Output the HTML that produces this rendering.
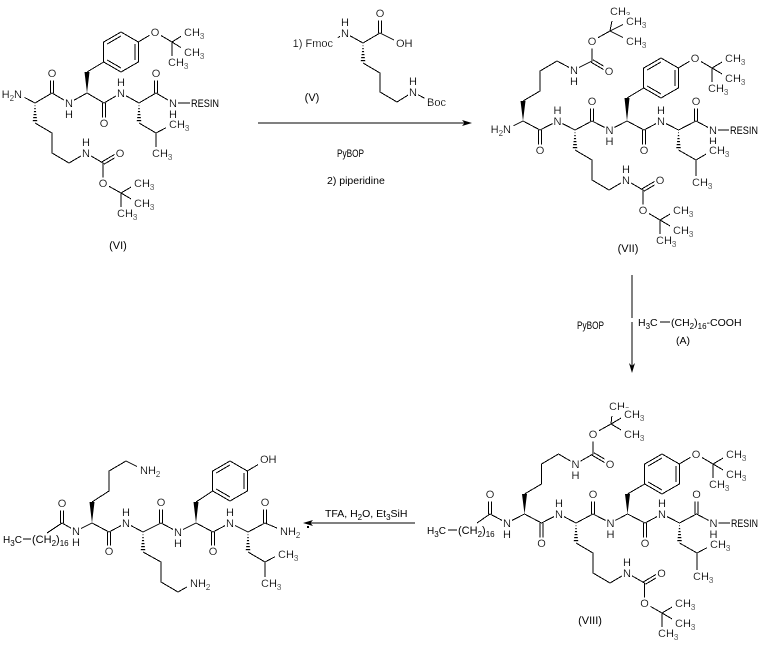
<!DOCTYPE html>
<html>
<head>
<meta charset="utf-8">
<style>
html,body{margin:0;padding:0;background:#fff;}
svg{display:block;}
.t text{filter:url(#w);}
</style>
</head>
<body>
<svg xmlns="http://www.w3.org/2000/svg" width="765" height="647" viewBox="0 0 765 647" font-family="'Liberation Sans', Arial, sans-serif" font-size="11">
<defs>
<pattern id="hs" width="10" height="3" patternUnits="userSpaceOnUse"><rect x="0" y="0" width="10" height="1.2" fill="#000"/></pattern>
<filter id="w" x="-0.12" y="-0.04" width="1.24" height="1.08"><feFlood flood-color="#fff" result="b"/><feComposite in="SourceGraphic" in2="b" operator="over"/></filter>
<g id="ring"><path fill="none" stroke="#000" stroke-width="1" shape-rendering="crispEdges" d="M-17.3 -10 L0 -20 L17.3 -10 L17.3 10 L0 20 L-17.3 10 Z M-13.8 -8 L0 -16 M13.8 -8 L13.8 8 M0 16 L-13.8 8"/></g>
</defs>
<rect width="765" height="647" fill="#fff"/>

<!-- ================= BONDS ================= -->
<g fill="none" stroke="#000" stroke-width="1" shape-rendering="crispEdges">
<!-- VI -->
<path d="M18 94 L35 103 L52 93 L69 103 L87 93 L104 103 L121 93 L139 103 L156 93 L173 103 L190 103
M50.5 93 L50.5 73 M53.5 93 L53.5 73
M102.5 103 L102.5 123 M105.5 103 L105.5 123
M154.5 93 L154.5 73 M157.5 93 L157.5 73
M87 72 L103.7 62 M138.3 42 L155 32 L172 42 L188 32 M172 42 L188 52 M172 42 L172 62
M139 123 L156 133 L173 124 M156 133 L156 153
M35 123 L52 133 L52 153 L69 163 L86 153 L103 163 L103 183 L121 193 L138 183 M121 193 L138 203 M121 193 L121 213
M103.8 164.3 L120.8 154.3 M102.2 161.7 L119.2 151.7"/>
<!-- V reagent -->
<path d="M333 41 L345 33 L363 43 L380 33 L400 43 M378.5 33 L378.5 13 M381.5 33 L381.5 13
M363 63 L380 73 L380 92 L397 102 L413 92 L426 99"/>
<!-- arrow 1 -->
<path d="M258 123 L466 123"/>
<!-- VII -->
<path d="M507 129 L523 121 L540 130 L557.5 121 L575 130 L592 121 L609.5 130 L627 121 L644 130 L661 121 L678.5 130 L696 121 L713 130 L729 130
M538.5 130 L538.5 150 M541.5 130 L541.5 150
M590.5 121 L590.5 101 M593.5 121 L593.5 101
M642.5 130 L642.5 150 M645.5 130 L645.5 150
M694.5 121 L694.5 101 M697.5 121 L697.5 101
M523 101 L540 91 L540 71 L557 61 L574 70 L592 61 L592 41 L610 31 L614 11 M610 31 L630 21 M610 31 L630 41
M591.2 62.3 L608.2 72.3 M592.8 59.7 L609.8 69.7
M575 150 L592 160 L592 180 L609 190 L626 180 L643 190 L643 210 L660 220 L677 210 M660 220 L677 230 M660 220 L660 240
M643.8 191.3 L660.8 181.3 M642.2 188.7 L659.2 178.7
M627 98 L643.7 88 M678.3 68 L695 58 L712 68 L729 58 M712 68 L729 78 M712 68 L712 88
M678.5 150 L696 160 L713 150 M696 160 L696 180"/>
<!-- arrow 2 -->
<path d="M632 275 L632 318 M632 322 L632 366 M660 322 L670 322"/>
<!-- VIII -->
<path d="M477 523 L490 514 L507 523 L524.5 514 L541.5 523 L559 514 L576 523 L593 514 L610.5 523 L627.5 514 L645 523 L662 514 L679.5 523 L696.5 514 L713.5 523 L730 523
M448 530 L457 530
M488.5 514 L488.5 494 M491.5 514 L491.5 494
M540 523 L540 543 M543 523 L543 543
M591.5 514 L591.5 494 M594.5 514 L594.5 494
M643.5 523 L643.5 543 M646.5 523 L646.5 543
M695 514 L695 494 M698 514 L698 494
M524.5 494 L541.5 484 L541.5 464 L558.5 454 L575.5 464 L593 454 L593 434 L611 424 L613 406 M611 424 L628 414 M611 424 L628 434
M592.2 455.3 L609.2 465.3 M593.8 452.7 L610.8 462.7
M576 543 L593 553 L593 573 L610 583 L627 573 L644.5 583 L644.5 603 L662 613 L679 603 M662 613 L679 623 M662 613 L662 633
M645.3 584.3 L662.3 574.3 M643.7 581.7 L660.7 571.7
M627.5 494 L644.7 484 M679.3 464 L696 454 L713 464 L730 454 M713 464 L730 474 M713 464 L713 484
M679.5 543 L697 553 L714 544 M697 553 L697 573"/>
<!-- arrow 3 -->
<path d="M309 523 L415 523"/>
<!-- Final product -->
<path d="M23 539 L31 539
M47 533 L62 523 L76 531 L92 523 L109 532 L126 523 L143 532 L161 523 L178 532 L196 523 L213 532 L230 523 L248 532 L265 523 L284 531
M60.5 523 L60.5 503 M63.5 523 L63.5 503
M107.5 532 L107.5 551 M110.5 532 L110.5 551
M159.5 523 L159.5 502 M162.5 523 L162.5 502
M211.5 532 L211.5 551 M214.5 532 L214.5 551
M263.5 523 L263.5 502 M266.5 523 L266.5 502
M92 502 L109 491 L109 471 L126 461 L144 470
M143 552 L161 562 L161 582 L178 592 L194 583
M196 502 L212.7 491 M247.3 471 L264 461
M248 552 L265 562 L282 553 M265 562 L265 582"/>
</g>

<!-- rings -->
<use href="#ring" x="121" y="52"/>
<use href="#ring" x="661" y="78"/>
<use href="#ring" x="662" y="474"/>
<use href="#ring" x="230" y="481"/>

<!-- wedges -->
<g fill="#000">
<polygon points="87,93 84.5,72 89.5,72"/>
<polygon points="523,121 520.5,101 525.5,101"/>
<polygon points="627,121 624.5,98 629.5,98"/>
<polygon points="524.5,514 522,494 527,494"/>
<polygon points="627.5,514 625,494 630,494"/>
<polygon points="92,523 89.5,502 94.5,502"/>
<polygon points="196,523 193.5,502 198.5,502"/>
<!-- arrowheads -->
<polygon points="472,123 462,120 464.5,123 462,126"/>
<polygon points="632,373 629,363 632,366 635,363"/>
<polygon points="303,523 313,520 310.5,523 313,526"/>
<rect x="307" y="526" width="2" height="2"/>
</g>
<g fill="url(#hs)">
<polygon points="35,103 32.5,123 37.5,123"/>
<polygon points="139,103 136.5,123 141.5,123"/>
<polygon points="363,43 360.5,63 365.5,63"/>
<polygon points="575,130 572.5,150 577.5,150"/>
<polygon points="678.5,130 676,150 681,150"/>
<polygon points="576,523 573.5,543 578.5,543"/>
<polygon points="679.5,523 677,543 682,543"/>
<polygon points="143,532 140.5,552 145.5,552"/>
<polygon points="248,532 245.5,552 250.5,552"/>
</g>

<!-- ================= LABELS (with white backing) ================= -->
<g class="t">
<!-- VI -->
<text x="22" y="98" text-anchor="end">H<tspan font-size="8" dy="3">2</tspan><tspan dy="-3">N</tspan></text>
<g text-anchor="middle">
<text x="52" y="77">O</text>
<text x="69" y="107">N</text><text x="69" y="118">H</text>
<text x="104" y="127">O</text>
<text x="121" y="97">N</text><text x="121" y="86">H</text>
<text x="156" y="77">O</text>
<text x="173" y="107">N</text><text x="173" y="118">H</text>
<text x="155" y="36">O</text>
<text x="86" y="157">N</text><text x="86" y="146">H</text>
<text x="120" y="157">O</text>
<text x="103" y="187">O</text>
</g>
<text x="184" y="36">CH<tspan font-size="8" dy="3">3</tspan></text>
<text x="184" y="56">CH<tspan font-size="8" dy="3">3</tspan></text>
<text x="168" y="66">CH<tspan font-size="8" dy="3">3</tspan></text>
<text x="169" y="128">CH<tspan font-size="8" dy="3">3</tspan></text>
<text x="152" y="157">CH<tspan font-size="8" dy="3">3</tspan></text>
<text x="134" y="187">CH<tspan font-size="8" dy="3">3</tspan></text>
<text x="134" y="207">CH<tspan font-size="8" dy="3">3</tspan></text>
<text x="117" y="217">CH<tspan font-size="8" dy="3">3</tspan></text>

<!-- V -->
<g text-anchor="middle">
<text x="345" y="37">N</text><text x="345" y="26">H</text>
<text x="380" y="17">O</text>
<text x="413" y="96">N</text><text x="413" y="85">H</text>
</g>
<text x="396" y="47">OH</text>
<text x="427" y="106">Boc</text>
<text x="333" y="47" text-anchor="end">1)  Fmoc</text>

<!-- VII -->
<text x="511" y="133" text-anchor="end">H<tspan font-size="8" dy="3">2</tspan><tspan dy="-3">N</tspan></text>
<g text-anchor="middle">
<text x="540" y="154">O</text>
<text x="557.5" y="125">N</text><text x="557.5" y="114">H</text>
<text x="592" y="105">O</text>
<text x="609.5" y="134">N</text><text x="609.5" y="145">H</text>
<text x="644" y="154">O</text>
<text x="661" y="125">N</text><text x="661" y="114">H</text>
<text x="696" y="105">O</text>
<text x="713" y="134">N</text><text x="713" y="145">H</text>
<text x="574" y="74">N</text><text x="574" y="85">H</text>
<text x="609" y="75">O</text>
<text x="592" y="45">O</text>
<text x="626" y="184">N</text><text x="626" y="173">H</text>
<text x="660" y="184">O</text>
<text x="643" y="214">O</text>
<text x="695" y="62">O</text>
</g>
<text x="610" y="15">CH<tspan font-size="8" dy="3">3</tspan></text>
<text x="626" y="25">CH<tspan font-size="8" dy="3">3</tspan></text>
<text x="626" y="45">CH<tspan font-size="8" dy="3">3</tspan></text>
<text x="673" y="214">CH<tspan font-size="8" dy="3">3</tspan></text>
<text x="673" y="234">CH<tspan font-size="8" dy="3">3</tspan></text>
<text x="656" y="244">CH<tspan font-size="8" dy="3">3</tspan></text>
<text x="725" y="62">CH<tspan font-size="8" dy="3">3</tspan></text>
<text x="725" y="82">CH<tspan font-size="8" dy="3">3</tspan></text>
<text x="708" y="92">CH<tspan font-size="8" dy="3">3</tspan></text>
<text x="709" y="154">CH<tspan font-size="8" dy="3">3</tspan></text>
<text x="692" y="186">CH<tspan font-size="8" dy="3">3</tspan></text>

<!-- VIII -->
<g text-anchor="middle">
<text x="490" y="498">O</text>
<text x="507" y="527">N</text><text x="507" y="538">H</text>
<text x="541.5" y="547">O</text>
<text x="559" y="518">N</text><text x="559" y="507">H</text>
<text x="593" y="498">O</text>
<text x="610.5" y="527">N</text><text x="610.5" y="538">H</text>
<text x="645" y="547">O</text>
<text x="662" y="518">N</text><text x="662" y="507">H</text>
<text x="696.5" y="498">O</text>
<text x="713.5" y="527">N</text><text x="713.5" y="538">H</text>
<text x="575.5" y="468">N</text><text x="575.5" y="479">H</text>
<text x="610" y="468">O</text>
<text x="593" y="438">O</text>
<text x="627" y="577">N</text><text x="627" y="566">H</text>
<text x="661.5" y="577">O</text>
<text x="644.5" y="607">O</text>
<text x="696" y="458">O</text>
</g>
<text x="609" y="410">CH<tspan font-size="8" dy="3">3</tspan></text>
<text x="624" y="418">CH<tspan font-size="8" dy="3">3</tspan></text>
<text x="624" y="438">CH<tspan font-size="8" dy="3">3</tspan></text>
<text x="675" y="607">CH<tspan font-size="8" dy="3">3</tspan></text>
<text x="675" y="627">CH<tspan font-size="8" dy="3">3</tspan></text>
<text x="658" y="637">CH<tspan font-size="8" dy="3">3</tspan></text>
<text x="726" y="458">CH<tspan font-size="8" dy="3">3</tspan></text>
<text x="726" y="478">CH<tspan font-size="8" dy="3">3</tspan></text>
<text x="709" y="488">CH<tspan font-size="8" dy="3">3</tspan></text>
<text x="710" y="548">CH<tspan font-size="8" dy="3">3</tspan></text>
<text x="693" y="580">CH<tspan font-size="8" dy="3">3</tspan></text>

<!-- Final product -->
<g text-anchor="middle">
<text x="62" y="507">O</text>
<text x="76" y="535">N</text><text x="76" y="546">H</text>
<text x="109" y="555">O</text>
<text x="126" y="527">N</text><text x="126" y="516">H</text>
<text x="161" y="506">O</text>
<text x="178" y="536">N</text><text x="178" y="547">H</text>
<text x="213" y="555">O</text>
<text x="230" y="527">N</text><text x="230" y="516">H</text>
<text x="265" y="506">O</text>
</g>
<text x="280" y="535">NH<tspan font-size="8" dy="3">2</tspan></text>
<text x="140" y="474">NH<tspan font-size="8" dy="3">2</tspan></text>
<text x="190" y="587">NH<tspan font-size="8" dy="3">2</tspan></text>
<text x="260" y="463">OH</text>
<text x="278" y="558">CH<tspan font-size="8" dy="3">3</tspan></text>
<text x="261" y="587">CH<tspan font-size="8" dy="3">3</tspan></text>
</g>

<!-- ================= PLAIN TEXT ================= -->
<g>
<text x="191" y="107" textLength="28" lengthAdjust="spacingAndGlyphs">RESIN</text>
<text x="730" y="134" textLength="28" lengthAdjust="spacingAndGlyphs">RESIN</text>
<text x="731" y="527" textLength="27" lengthAdjust="spacingAndGlyphs">RESIN</text>

<text x="118" y="249" text-anchor="middle">(VI)</text>
<text x="312" y="101" text-anchor="middle">(V)</text>
<text x="628" y="252" text-anchor="middle">(VII)</text>
<text x="590" y="624" text-anchor="middle">(VIII)</text>

<text x="337" y="157" textLength="27" lengthAdjust="spacingAndGlyphs">PyBOP</text>
<text x="327" y="184" font-size="10.5">2) piperidine</text>

<text x="577" y="329" textLength="27" lengthAdjust="spacingAndGlyphs">PyBOP</text>
<text x="638" y="326" font-size="10.5">H<tspan font-size="8" dy="3">3</tspan><tspan dy="-3">C</tspan></text>
<text x="671" y="326" font-size="10.5">(CH<tspan font-size="8" dy="3">2</tspan><tspan dy="-3">)</tspan><tspan font-size="8" dy="3">16</tspan><tspan dy="-3">-COOH</tspan></text>
<text x="683" y="344" text-anchor="middle" font-size="10.5">(A)</text>

<text x="325" y="517" font-size="10.5">TFA, H<tspan font-size="8" dy="3">2</tspan><tspan dy="-3">O, Et</tspan><tspan font-size="8" dy="3">3</tspan><tspan dy="-3">SiH</tspan></text>

<text x="427" y="534" font-size="10">H<tspan font-size="8" dy="3">3</tspan><tspan dy="-3">C</tspan></text>
<text x="458" y="534">(CH<tspan font-size="8" dy="3">2</tspan><tspan dy="-3">)</tspan><tspan font-size="8" dy="3">16</tspan></text>

<text x="3" y="543" font-size="10">H<tspan font-size="8" dy="3">3</tspan><tspan dy="-3">C</tspan></text>
<text x="32" y="543">(CH<tspan font-size="8" dy="3">2</tspan><tspan dy="-3">)</tspan><tspan font-size="8" dy="3">16</tspan></text>
</g>
</svg>
</body>
</html>
